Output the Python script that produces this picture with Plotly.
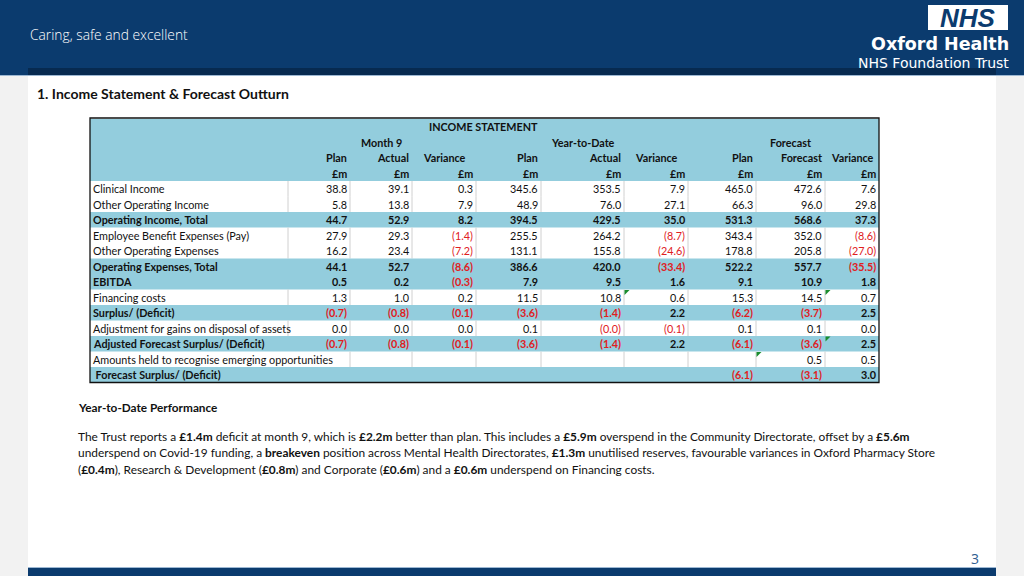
import plotly.graph_objects as go

# ---------------- data ----------------
row_labels = [
    "Clinical Income", "Other Operating Income", "Operating Income, Total",
    "Employee Benefit Expenses (Pay)", "Other Operating Expenses",
    "Operating Expenses, Total", "EBITDA", "Financing costs", "Surplus/ (Deficit)",
    "Adjustment for gains on disposal of assets", "Adjusted Forecast Surplus/ (Deficit)",
    "Amounts held to recognise emerging opportunities", " Forecast Surplus/ (Deficit)",
]
total_rows = [2, 5, 6, 8, 10, 12]

m9_plan = [38.8, 5.8, 44.7, 27.9, 16.2, 44.1, 0.5, 1.3, -0.7, 0.0, -0.7, None, None]
m9_actual = [39.1, 13.8, 52.9, 29.3, 23.4, 52.7, 0.2, 1.0, -0.8, 0.0, -0.8, None, None]
m9_var = [0.3, 7.9, 8.2, -1.4, -7.2, -8.6, -0.3, 0.2, -0.1, 0.0, -0.1, None, None]
ytd_plan = [345.6, 48.9, 394.5, 255.5, 131.1, 386.6, 7.9, 11.5, -3.6, 0.1, -3.6, None, None]
ytd_actual = [353.5, 76.0, 429.5, 264.2, 155.8, 420.0, 9.5, 10.8, -1.4, -0.04, -1.4, None, None]
ytd_var = [7.9, 27.1, 35.0, -8.7, -24.6, -33.4, 1.6, 0.6, 2.2, -0.1, 2.2, None, None]
fc_plan = [465.0, 66.3, 531.3, 343.4, 178.8, 522.2, 9.1, 15.3, -6.2, 0.1, -6.1, None, -6.1]
fc_forecast = [472.6, 96.0, 568.6, 352.0, 205.8, 557.7, 10.9, 14.5, -3.7, 0.1, -3.6, 0.5, -3.1]
fc_var = [7.6, 29.8, 37.3, -8.6, -27.0, -35.5, 1.8, 0.7, 2.5, 0.0, 2.5, 0.5, 3.0]

group_titles = ["Month 9", "Year-to-Date", "Forecast"]
col_titles = ["Plan", "Actual", "Variance", "Plan", "Actual", "Variance", "Plan", "Forecast", "Variance"]
unit_label = "£m"
comment_cells = [(7, 5), (7, 8), (10, 8), (11, 7)]  # (row, column) with Excel comment flags

columns = [m9_plan, m9_actual, m9_var, ytd_plan, ytd_actual, ytd_var, fc_plan, fc_forecast, fc_var]

# ---------------- layout / style ----------------
W, H = 1024, 576
HEAD_BLUE = "#0b3b6e"
BAND = "#072a50"
TBL_BLUE = "#93cddd"
RED = "#e0201e"
TXT = "#111111"
FONT = "Lato"
TS = 10.8  # table font size

TABLE_L, TABLE_R = 90, 879
LABEL_R = 288
col_edges = [(288, 350), (350, 412), (412, 476), (482, 541), (541, 624), (624, 688),
             (692, 756), (756, 825), (825, 879)]
gaps = [(476, 482), (688, 692)]
ROW_H = 15.5
TOP = 119
HEAD_ROWS = 4
BODY_TOP = TOP + HEAD_ROWS * ROW_H
BOTTOM = BODY_TOP + len(row_labels) * ROW_H

fig = go.Figure()
shapes = []
ann = []


def rect(x0, y0, x1, y1, color, line=None, lw=0):
    shapes.append(dict(type="rect", xref="x", yref="y", x0=x0, y0=y0, x1=x1, y1=y1,
                       fillcolor=color, line=dict(width=lw, color=line or color), layer="below"))


def line(x0, y0, x1, y1, color, width=1):
    shapes.append(dict(type="line", xref="x", yref="y", x0=x0, y0=y0, x1=x1, y1=y1,
                       line=dict(color=color, width=width), layer="below"))


def text(x, y, s, size=10, color=TXT, anchor="left", bold=False, family=FONT, weight=None):
    if bold:
        s = "<b>" + s + "</b>"
    f = dict(size=size, color=color, family=family)
    if weight is not None:
        f["weight"] = weight
    ann.append(dict(x=x, y=y, xref="x", yref="y", text=s, showarrow=False,
                    xanchor=anchor, yanchor="middle", borderpad=0, font=f))


# slide background
rect(0, 0, W, H, "#f2f2f2")
rect(28, 76, 996, 567, "#ffffff")
rect(0, 0, W, 75, HEAD_BLUE)
rect(28, 68, 996, 75, BAND)
line(0, 75.5, W, 75.5, "#9db8d3", 1)
rect(28, 568, 996, H, HEAD_BLUE)
line(28, 567.5, 996, 567.5, "#9db8d3", 1)

text(29, 34, "Caring, safe and excellent", size=13.8, color="#ffffff", family="Open Sans", weight=300)
rect(928, 5, 1008, 30, "#ffffff")
text(968, 17.5, "<b><i>NHS</i></b>", size=26, color=HEAD_BLUE, anchor="center", family="Liberation Sans")
text(1010, 43.5, "<b>Oxford Health</b>", size=17.5, color="#ffffff", anchor="right", family="DejaVu Sans")
text(1010, 62.5, "NHS Foundation Trust", size=14, color="#ffffff", anchor="right", family="DejaVu Sans")

text(36, 93, "1. Income Statement & Forecast Outturn", size=14, bold=True)
text(975, 558, "3", size=14, color="#2f5d8f", anchor="center", family="Open Sans")

# ---------------- table ----------------
rect(TABLE_L, TOP, TABLE_R, BODY_TOP, TBL_BLUE)

for r, label in enumerate(row_labels):
    y0 = BODY_TOP + r * ROW_H
    y1 = y0 + ROW_H
    yc = (y0 + y1) / 2
    is_total = r in total_rows
    if is_total:
        rect(TABLE_L, y0, TABLE_R, y1, TBL_BLUE)
    else:
        # vertical gridlines in white rows
        xs = [LABEL_R] + [e[1] for e in col_edges[:-1]] + [g[0] for g in gaps]
        for x in sorted(set(xs)):
            if label.startswith("Amounts") and x <= LABEL_R:
                continue
            line(x, y0, x, y1, "#d0d0d0", 1)
    text(TABLE_L + 2, yc, label, size=TS, bold=is_total)
    for c, series in enumerate(columns):
        v = series[r]
        if v is None:
            continue
        s = "(%.1f)" % abs(v) if v < 0 else "%.1f" % v
        text(col_edges[c][1] - 2, yc, s, size=TS, color=RED if v < 0 else TXT,
             anchor="right", bold=is_total)

# header text
hy = [TOP + ROW_H * (i + 0.5) for i in range(HEAD_ROWS)]
text((TABLE_L + TABLE_R) / 2 - 1, hy[0], "INCOME STATEMENT", size=TS, bold=True, anchor="center")
for g, title in enumerate(group_titles):
    x0, x1 = col_edges[g * 3 + 1]
    text((x0 + x1) / 2, hy[1], title, size=TS, bold=True, anchor="center")
for c, title in enumerate(col_titles):
    x0, x1 = col_edges[c]
    if title == "Variance":
        text((x0 + x1) / 2, hy[2], title, size=TS, bold=True, anchor="center")
    else:
        text(x1 - 2, hy[2], title, size=TS, bold=True, anchor="right")
    text(x1 - 2, hy[3], unit_label, size=TS, bold=True, anchor="right")

# comment flags
for r, c in comment_cells:
    x0 = col_edges[c][0]
    y0 = BODY_TOP + r * ROW_H
    shapes.append(dict(type="path", xref="x", yref="y",
                       path=f"M {x0+0.5},{y0+0.5} L {x0+5.5},{y0+0.5} L {x0+0.5},{y0+5.5} Z",
                       fillcolor="#1a8c2e", line=dict(width=0)))

# outer border
shapes.append(dict(type="rect", xref="x", yref="y", x0=TABLE_L, y0=TOP - 1, x1=TABLE_R, y1=BOTTOM,
                   line=dict(color="#111111", width=1.3), fillcolor="rgba(0,0,0,0)"))

# ---------------- commentary ----------------
text(77, 407, "Year-to-Date Performance", size=11.8, bold=True)
para = [
    "The Trust reports a <b>£1.4m</b> deficit at month 9, which is <b>£2.2m</b> better than plan. "
    "This includes a <b>£5.9m</b> overspend in the Community Directorate, offset by a <b>£5.6m</b>",
    "underspend on Covid-19 funding, a <b>breakeven</b> position across Mental Health Directorates, "
    "<b>£1.3m</b> unutilised reserves, favourable variances in Oxford Pharmacy Store",
    "(<b>£0.4m</b>), Research & Development (<b>£0.8m</b>) and Corporate (<b>£0.6m</b>) and a "
    "<b>£0.6m</b> underspend on Financing costs.",
]
for i, ln in enumerate(para):
    text(77, 436 + i * 16.5, ln, size=11.9)

fig.update_layout(
    width=W, height=H, margin=dict(l=0, r=0, t=0, b=0),
    paper_bgcolor="#ffffff", plot_bgcolor="#ffffff",
    xaxis=dict(range=[0, W], visible=False, fixedrange=True),
    yaxis=dict(range=[H, 0], visible=False, fixedrange=True),
    shapes=shapes, annotations=ann, showlegend=False,
)
fig.add_trace(go.Scatter(x=[0], y=[0], mode="markers", marker=dict(opacity=0), hoverinfo="skip"))
fig.write_html("out.html", config={"displayModeBar": False},
               post_script="document.body.style.margin='0';document.body.style.overflow='hidden';")
